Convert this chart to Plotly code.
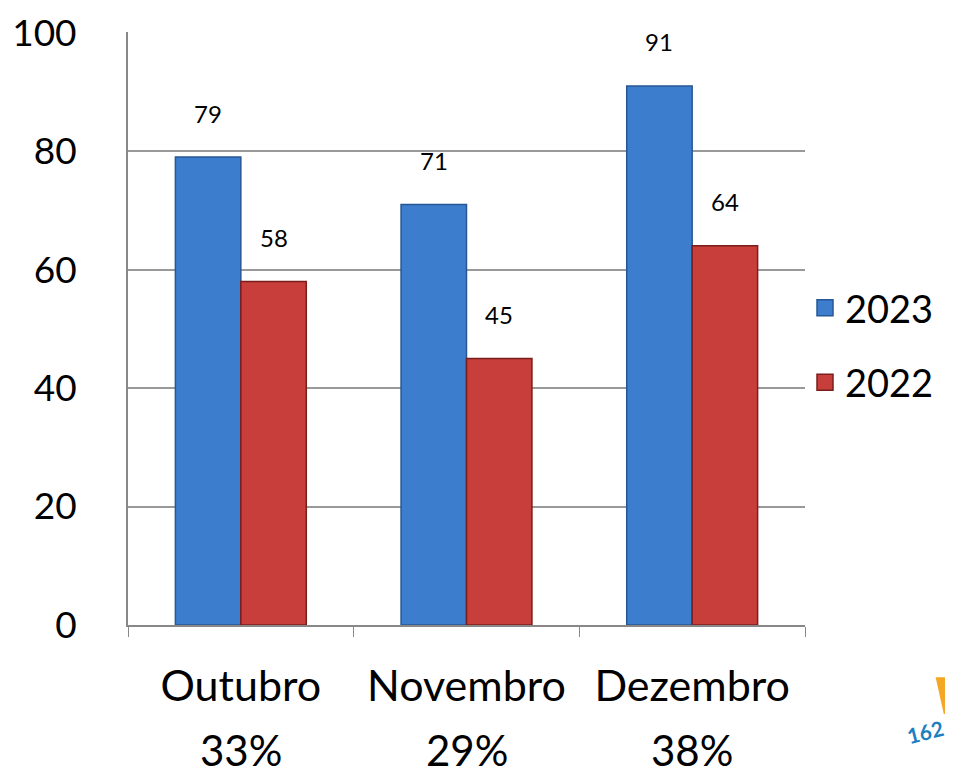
import plotly.graph_objects as go

categories = ["Outubro", "Novembro", "Dezembro"]
shares = ["33%", "29%", "38%"]
series_names = ["2023", "2022"]
values_2023 = [79, 71, 91]
values_2022 = [58, 45, 64]

FONT = "Lato"
blue = "#3D7DCE"
red = "#C73E3A"
blue_edge = "#275794"
red_edge = "#7A1E1C"

fig = go.Figure()
fig.add_trace(go.Bar(name=series_names[0], x=categories, y=values_2023, showlegend=False,
                     marker=dict(color=blue, line=dict(color=blue_edge, width=1.5))))
fig.add_trace(go.Bar(name=series_names[1], x=categories, y=values_2022, showlegend=False,
                     marker=dict(color=red, line=dict(color=red_edge, width=1.5))))

# legend entries with large square swatches
for name, col, edge in ((series_names[0], blue, blue_edge), (series_names[1], red, red_edge)):
    fig.add_trace(go.Scatter(name=name, x=[None], y=[None], mode="markers", legendgroup=name,
                             marker=dict(symbol="square", size=24, color=col,
                                         line=dict(color=edge, width=1.5))))

# data labels above bars
for i, c in enumerate(categories):
    for vals, off in ((values_2023, -0.145), (values_2022, 0.145)):
        fig.add_annotation(x=i + off, y=vals[i], xref="x", yref="y", text=str(vals[i]),
                           showarrow=False, yshift=44, font=dict(family=FONT, size=24, color="#000"))

# percentages under categories
for i, s in enumerate(shares):
    fig.add_annotation(x=i, y=-0.211, xref="x", yref="paper", text=s, showarrow=False,
                       yanchor="middle", font=dict(family=FONT, size=42, color="#000"))

# partial logo in bottom-right corner (decoration)
fig.add_annotation(x=1.143, y=-0.18, xref="paper", yref="paper", text="<b>162</b>",
                   showarrow=False, textangle=-14, xanchor="left", yanchor="middle",
                   font=dict(family=FONT, size=21, color="#1E7FC0"))
fig.add_shape(type="path", xref="paper", yref="paper",
              path="M 1.193 -0.088 L 1.215 -0.088 L 1.215 -0.15 L 1.205 -0.15 Z",
              fillcolor="#F5A623", line=dict(width=0))

fig.update_layout(
    width=945, height=767,
    margin=dict(l=120, r=148, t=24, b=150),
    paper_bgcolor="white", plot_bgcolor="white",
    barmode="group", bargap=0.42, bargroupgap=0,
    font=dict(family=FONT, color="#000"),
    showlegend=True,
    legend=dict(x=1.0, y=0.472, xanchor="left", yanchor="middle",
                font=dict(family=FONT, size=38), itemwidth=30, tracegroupgap=22,
                itemsizing="trace"),
    xaxis=dict(type="category", tickson="boundaries", ticks="outside", ticklen=10,
               tickcolor="#888", showline=True, linecolor="#888", linewidth=2,
               ticklabelstandoff=22,
               tickfont=dict(family=FONT, size=43), showgrid=False, automargin=False),
    yaxis=dict(range=[0, 100.1], tickvals=[0, 20, 40, 60, 80, 100], showgrid=True,
               gridcolor="#999", gridwidth=1.5,
               showline=True, linecolor="#888", linewidth=2, ticks="",
               ticklabelstandoff=42, tickfont=dict(family=FONT, size=37),
               zeroline=False, automargin=False),
)

fig.write_html("out.html")
